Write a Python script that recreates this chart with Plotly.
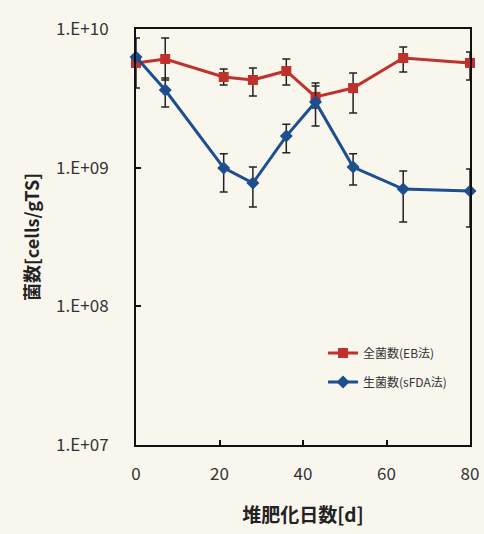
import plotly.graph_objects as go

days = [0, 7, 21, 28, 36, 43, 52, 64, 80]

total_name = "全菌数(EB法)"
total_val = [5.69e9, 6.08e9, 4.51e9, 4.29e9, 4.98e9, 3.24e9, 3.75e9, 6.18e9, 5.69e9]
total_hi = [8.61e9, 8.61e9, 5.15e9, 5.24e9, 6.08e9, 4.08e9, 4.82e9, 7.41e9, 6.82e9]
total_lo = [3.75e9, 4.29e9, 3.94e9, 3.29e9, 3.94e9, 2.69e9, 2.48e9, 4.90e9, 4.29e9]

live_name = "生菌数(sFDA法)"
live_val = [6.28e9, 3.63e9, 9.96e8, 7.75e8, 1.69e9, 2.98e9, 1.01e9, 7.01e8, 6.79e8]
live_hi = [6.28e9, 4.44e9, 1.26e9, 1.01e9, 2.06e9, 3.88e9, 1.26e9, 9.46e8, 9.77e8]
live_lo = [6.28e9, 2.74e9, 6.68e8, 5.20e8, 1.28e9, 2.00e9, 7.50e8, 4.06e8, 3.73e8]

y_tickvals = [1e7, 1e8, 1e9, 1e10]
y_ticktext = ["1.E+07", "1.E+08", "1.E+09", "1.E+10"]
x_tickvals = [0, 20, 40, 60, 80]

x_title = "堆肥化日数[d]"
y_title = "菌数[cells/gTS]"

RED = "#c1312c"
BLUE = "#1d4f8f"
BG = "#f9f6ee"
FONT = "Noto Sans CJK JP"


def errs(val, hi, lo):
    return [h - v for h, v in zip(hi, val)], [v - l for v, l in zip(val, lo)]


fig = go.Figure()
tp, tm = errs(total_val, total_hi, total_lo)
lp, lm = errs(live_val, live_hi, live_lo)

fig.add_trace(go.Scatter(
    x=days, y=total_val, name=total_name, mode="lines+markers",
    line=dict(color=RED, width=3),
    marker=dict(symbol="square", size=10, color=RED),
    error_y=dict(type="data", array=tp, arrayminus=tm, color="#222222", thickness=1.5, width=4),
    legendgroup="a", cliponaxis=False,
))
fig.add_trace(go.Scatter(
    x=days, y=live_val, name=live_name, mode="lines+markers",
    line=dict(color=BLUE, width=3),
    marker=dict(symbol="diamond", size=10, color=BLUE),
    error_y=dict(type="data", array=lp, arrayminus=lm, color="#222222", thickness=1.5, width=4),
    legendgroup="b", cliponaxis=False,
))

fig.update_layout(
    width=484, height=534,
    margin=dict(l=136, r=14, t=29, b=89),
    paper_bgcolor=BG, plot_bgcolor=BG,
    font=dict(family=FONT, color="#333333"),
    showlegend=True,
    legend=dict(
        x=0.56, y=0.256, xanchor="left", yanchor="top",
        bgcolor="rgba(0,0,0,0)", font=dict(size=12, color="#333333"),
        tracegroupgap=10, traceorder="grouped",
    ),
    xaxis=dict(
        range=[0, 80], tickvals=x_tickvals, ticks="inside", ticklen=5,
        tickwidth=2, tickcolor="#111111", ticklabelstandoff=13, automargin=False,
        showgrid=False, zeroline=False, showline=True, linecolor="#111111",
        linewidth=2, mirror=True,
        tickfont=dict(size=17, color="#333333", family=FONT),
        title=dict(text="<b>" + x_title + "</b>", font=dict(size=19, color="#222222", family=FONT), standoff=24),
    ),
    yaxis=dict(
        type="log", range=[7, 10], tickvals=y_tickvals, ticktext=y_ticktext,
        ticks="inside", ticklen=5, tickwidth=2, tickcolor="#111111", ticklabelstandoff=22,
        automargin=False,
        showgrid=False, zeroline=False, showline=True, linecolor="#111111",
        linewidth=2, mirror=True,
        tickfont=dict(size=17, color="#333333", family=FONT),
        title=dict(text="<b>" + y_title + "</b>", font=dict(size=18, color="#222222", family=FONT), standoff=12),
    ),
)

fig.write_html("out.html", config={"displayModeBar": False},
               post_script="document.body.style.margin='0';")
